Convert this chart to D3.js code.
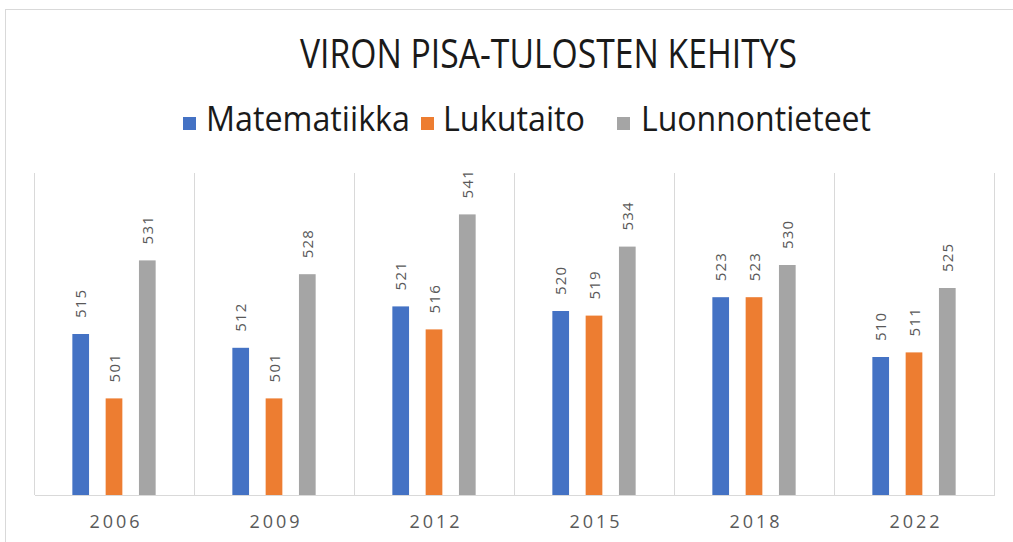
<!DOCTYPE html>
<html><head><meta charset="utf-8">
<script src="https://cdn.jsdelivr.net/npm/d3@7"></script>
<style>body{margin:0;background:#fff}svg{display:block}text{font-family:"Open Sans","Noto Sans",sans-serif}</style>
</head><body><svg id="c" width="1013" height="542"></svg>
<script>
const years = ["2006","2009","2012","2015","2018","2022"];
const seriesNames = ["Matematiikka","Lukutaito","Luonnontieteet"];
const matematiikka = [515,512,521,520,523,510];
const lukutaito = [501,501,516,519,523,511];
const luonnontieteet = [531,528,541,534,530,525];
const colors = ["#4472C4","#ED7D31","#A5A5A5"];
const title = "VIRON PISA-TULOSTEN KEHITYS";
const yDomain = [480,550];

const series = [matematiikka, lukutaito, luonnontieteet];
const svg = d3.select("#c");
svg.append("rect").attr("width",1013).attr("height",542).attr("fill","#fff");
svg.append("line").attr("x1",5).attr("x2",1013).attr("y1",9.5).attr("y2",9.5).attr("stroke","#d9d9d9");
svg.append("line").attr("x1",5.5).attr("x2",5.5).attr("y1",9).attr("y2",542).attr("stroke","#d9d9d9");

const x = d3.scaleBand().domain(years).range([34.5,994.5]).paddingInner(0).paddingOuter(0);
const y = d3.scaleLinear().domain(yDomain).range([495,173]);

const bounds = years.map(yv=>x(yv)).concat([x.range()[1]]);
svg.append("g").selectAll("line").data(bounds).join("line")
  .attr("x1",d=>d).attr("x2",d=>d).attr("y1",y(yDomain[1])).attr("y2",y(yDomain[0]))
  .attr("stroke","#d9d9d9").attr("stroke-width",1);

const xAxis = svg.append("g").attr("transform",`translate(0,${y(yDomain[0])})`)
  .call(d3.axisBottom(x).tickSize(0).tickPadding(0));
xAxis.select(".domain").attr("stroke","#d9d9d9");
xAxis.selectAll("text").attr("font-size",18).attr("fill","#595959").attr("letter-spacing","3px")
  .attr("dy",null).attr("y",33).attr("dx","1.5px");

const barW = 16.7, step = 33.3;
series.forEach((vals,si)=>{
  const g = svg.append("g");
  g.selectAll("rect").data(vals).join("rect")
    .attr("x",(d,i)=>x(years[i])+x.bandwidth()/2 + (si-1)*step - barW/2 - 0.5)
    .attr("y",d=>y(d)).attr("width",barW).attr("height",d=>y(yDomain[0])-y(d))
    .attr("fill",colors[si]);
  g.selectAll("text").data(vals).join("text")
    .attr("transform",(d,i)=>{
      const cx = x(years[i])+x.bandwidth()/2 + (si-1)*step - 0.5 + 5.5;
      return `translate(${cx},${y(d)-16}) rotate(-90)`;
    })
    .attr("font-size",15).attr("fill","#595959").attr("letter-spacing","1.2px")
    .text(d=>d);
});

svg.append("text").attr("x",300).attr("y",68).attr("font-size",40).attr("fill","#1a1a1a")
  .attr("textLength",497).attr("lengthAdjust","spacingAndGlyphs").text(title);

const legendPos = [{sx:183,tx:206,tw:204},{sx:421,tx:443,tw:142},{sx:617,tx:641,tw:230}];
const lg = svg.append("g");
seriesNames.forEach((n,i)=>{
  const p = legendPos[i];
  lg.append("rect").attr("x",p.sx).attr("y",117).attr("width",13).attr("height",13).attr("fill",colors[i]);
  lg.append("text").attr("x",p.tx).attr("y",131).attr("font-size",35).attr("fill","#1a1a1a")
    .attr("textLength",p.tw).attr("lengthAdjust","spacingAndGlyphs").text(n);
});
</script></body></html>
